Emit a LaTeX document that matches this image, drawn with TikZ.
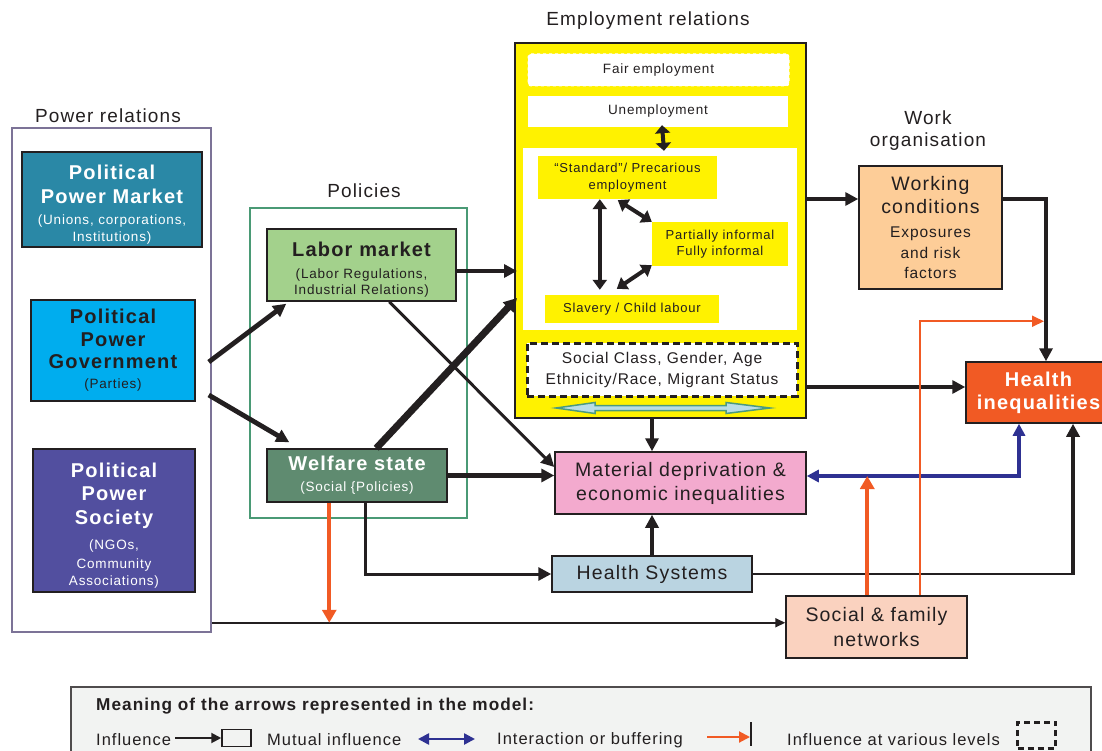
\documentclass[tikz,border=0pt]{standalone}
\usepackage{fontspec}
\setmainfont{Liberation Sans}[LetterSpace=6]
\usetikzlibrary{arrows.meta,calc}

\definecolor{ink}{HTML}{231F20}
\definecolor{mktcol}{HTML}{2A88A6}
\definecolor{govcol}{HTML}{00ADEE}
\definecolor{soccol}{HTML}{524F9F}
\definecolor{lmcol}{HTML}{A3D18C}
\definecolor{wscol}{HTML}{5F8B70}
\definecolor{mdcol}{HTML}{F3AACE}
\definecolor{hscol}{HTML}{BAD4E1}
\definecolor{sfcol}{HTML}{FAD2BF}
\definecolor{wccol}{HTML}{FDCD98}
\definecolor{hicol}{HTML}{F15A24}
\definecolor{empyel}{HTML}{FFF200}
\definecolor{buforange}{HTML}{F15A24}
\definecolor{mutblue}{HTML}{2E3192}
\definecolor{polframe}{HTML}{4A9A75}
\definecolor{powframe}{HTML}{7C7397}
\definecolor{legfill}{HTML}{F2F3F2}
\definecolor{barfill}{HTML}{B9DDE6}
\definecolor{barline}{HTML}{4A9A80}

\newcommand\txtHead{\fontsize{19}{22}\selectfont}
\newcommand\txtBig{\fontsize{19.5}{24}\selectfont}
\newcommand\txtTitle{\fontsize{20}{24}\selectfont\bfseries}
\newcommand\txtSub{\fontsize{13.5}{17}\selectfont\mdseries}
\newcommand\txtSmall{\fontsize{13}{16}\selectfont}
\newcommand\txtMid{\fontsize{15.5}{19}\selectfont}
\newcommand\txtLeg{\fontsize{16.5}{19}\selectfont}

\begin{document}
\begin{tikzpicture}[x=1pt,y=-1pt,
  every node/.style={text=ink},
  box/.style={draw=ink, line width=1.5pt, inner sep=0pt, align=center},
  frame/.style={line width=1.5pt, inner sep=0pt},
  lbl/.style={inner sep=0pt, align=center, font=\txtHead},
  tip/.style={-{Triangle[length=13pt,width=13pt]}},
  tiptwo/.style={{Triangle[length=12pt,width=12pt]}-{Triangle[length=12pt,width=12pt]}},
  heavy/.style={draw=ink, line width=4.8pt, tip},
  medium/.style={draw=ink, line width=3pt, tip},
  light/.style={draw=ink, line width=2pt, tip},
  mutual/.style={draw=mutblue, line width=4pt, tiptwo},
  buffer/.style={draw=buforange, line width=4pt, -{Triangle[length=13pt,width=14pt]}},
  bufferthin/.style={draw=buforange, line width=1.8pt, -{Triangle[length=12pt,width=11pt]}},
  inner2/.style={draw=ink, line width=4pt, {Triangle[length=10pt,width=14pt]}-{Triangle[length=10pt,width=14pt]}}
]
\useasboundingbox (0,0) rectangle (1102,751);

% ---------- Power relations ----------
\node[frame, draw=powframe, minimum width=199pt, minimum height=504pt] (pr) at (111.5,380) {};
\node[lbl] (prl) at (108,116) {Power relations};
\node[box, fill=mktcol, minimum width=180pt, minimum height=95pt, font=\txtTitle, text=white] (pm) at (112,199.5)
  {\rule{0pt}{24pt}Political\\Power Market\\[-3pt]\txtSub (Unions, corporations,\\[-7pt]\txtSub Institutions)};
\node[box, fill=govcol, minimum width=164pt, minimum height=101pt, font=\txtTitle] (pg) at (113,350.5)
  {Political\\[-1.5pt]Power\\[-1.5pt]Government\\[-4pt]\txtSub (Parties)};
\node[box, fill=soccol, minimum width=162pt, minimum height=143pt, font=\txtTitle, text=white] (ps) at (114,520.5)
  {\rule{0pt}{24pt}Political\\[-1pt]Power\\Society\\[1pt]\txtSub (NGOs,\\[-5pt]\txtSub Community\\[-7pt]\txtSub Associations)};

% ---------- Policies ----------
\node[frame, draw=polframe, line width=1.3pt, minimum width=217pt, minimum height=310pt] (pol) at (358.5,363) {};
\node[lbl] (poll) at (364,191) {Policies};
\node[box, fill=lmcol, minimum width=189pt, minimum height=72pt, font=\txtTitle] (lm) at (361.5,265)
  {\rule{0pt}{24pt}Labor market\\[-2pt]\txtSub (Labor Regulations,\\[-8pt]\txtSub Industrial Relations)};
\node[box, fill=wscol, minimum width=180pt, minimum height=53pt, font=\txtTitle, text=white] (ws) at (357,475.5)
  {Welfare state\\[-3pt]\txtSub (Social \{Policies)};

% ---------- Employment relations ----------
\node[lbl] (empl) at (648,21) {Employment relations};
\node[box, fill=empyel, line width=2pt, minimum width=291pt, minimum height=375pt] (emp) at (660.5,230.5) {};
\node[draw=white, dashed, line width=1pt, rounded corners=3pt, fill=white, inner sep=0pt,
      minimum width=261pt, minimum height=32pt, font=\txtSub] (fair) at (658.5,70) {Fair employment};
\node[fill=white, inner sep=0pt, minimum width=260pt, minimum height=31pt, font=\txtSub] (unemp) at (658,111.5) {Unemployment};
\node[fill=white, inner sep=0pt, minimum width=274pt, minimum height=182pt] (inner) at (660,239) {};
\node[fill=empyel, inner sep=0pt, align=center, minimum width=179pt, minimum height=43pt, font=\txtSmall] (std) at (627.5,177.5)
  {``Standard''/ Precarious\\[1pt]employment};
\node[fill=empyel, inner sep=0pt, align=center, minimum width=136pt, minimum height=44pt, font=\txtSmall] (inf) at (720,244)
  {Partially informal\\Fully informal};
\node[fill=empyel, inner sep=0pt, minimum width=174pt, minimum height=28pt, font=\txtSmall] (slav) at (632,309)
  {Slavery / Child labour};
\node[draw=ink, fill=white, line width=3pt, dash pattern=on 7pt off 4pt, inner sep=0pt, align=center,
      minimum width=270pt, minimum height=53pt, font=\txtMid] (soc) at (662,369.5)
  {Social Class, Gender, Age\\[2pt]Ethnicity/Race, Migrant Status};
% interaction bar across the social axes
\filldraw[fill=barfill, draw=barline, line width=1.5pt]
  (556,408) -- (595,402.5) -- (595,405.5) -- (726,405.5) -- (726,402.5) -- (770,408)
  -- (726,413.5) -- (726,410.5) -- (595,410.5) -- (595,413.5) -- cycle;

% arrows among employment forms
\draw[draw=ink, line width=4pt, {Triangle[length=8pt,width=15pt]}-{Triangle[length=8pt,width=15pt]}]
  ($(unemp.south)+(4,-2)$) -- ($(inner.north)+(4,3)$);
\draw[inner2] ($(std.south west)+(62,0)$) -- ($(slav.north west)+(55,-5)$);
\draw[inner2] ($(std.south west)+(80,1)$) -- ($(inf.north west)+(0,0)$);
\draw[inner2] ($(inf.south west)+(0,-1)$) -- ($(slav.north west)+(72,-6)$);

% ---------- Work organisation ----------
\node[lbl] (wol) at (928,131) {Work\\organisation};
\node[box, fill=wccol, minimum width=143pt, minimum height=123pt, font=\txtBig] (wc) at (930.5,227.5)
  {Working\\[-1pt]conditions\\\txtMid Exposures\\[-3pt]\txtMid and risk\\[-4pt]\txtMid factors};

% ---------- Outcomes ----------
\node[box, fill=hicol, minimum width=145pt, minimum height=61pt, font=\txtTitle, text=white] (hi) at (1038.5,392.5)
  {Health\\[-1pt]inequalities};
\node[box, fill=mdcol, minimum width=251pt, minimum height=62pt, font=\txtBig] (md) at (680.5,483)
  {Material deprivation \&\\economic inequalities};
\node[box, fill=hscol, minimum width=200pt, minimum height=36pt, font=\txtBig] (hs) at (652,574) {Health Systems};
\node[box, fill=sfcol, minimum width=181pt, minimum height=62pt, font=\txtBig] (sf) at (876.5,627)
  {Social \& family\\[1pt]networks};

% ---------- Connectors ----------
% power relations to policies
\draw[heavy] ($(pg.east)+(13,11.5)$) -- ($(lm.south west)+(20,2)$);
\draw[heavy] ($(pg.east)+(13,44.5)$) -- ($(ws.north west)+(23,-6)$);
% policies to employment and deprivation
\draw[heavy] ($(lm.east)+(0,6)$) -- ($(emp.west)+(3,40.5)$);
\draw[draw=ink, line width=7pt, -{Triangle[length=13pt,width=14pt]}] ($(ws.north west)+(110,0)$) -- ($(emp.west)+(3,67.5)$);
\draw[medium] ($(lm.south west)+(123,0)$) -- ($(md.west)+(0,-16)$);
\draw[heavy] (ws.east) -- (ws.east -| md.west);
\draw[medium] ($(ws.south west)+(99,0)$) |- (hs.west);
% buffering from welfare state
\coordinate (prout) at ($(pr.south east)+(0,-10)$);
\draw[light, -{Triangle[length=10pt,width=9pt]}] (prout) -- (prout -| sf.west);
\coordinate (wso) at ($(ws.south west)+(63,0)$);
\draw[buffer] (wso) -- (wso |- prout);
% employment to outcomes
\coordinate (wcin) at ($(wc.west)+(0,-28.5)$);
\coordinate (wcout) at ($(wc.east)+(0,-28.5)$);
\draw[heavy] (wcin -| emp.east) -- (wcin);
\draw[heavy] (wcout) -| ($(hi.north)+(7.5,0)$);
\coordinate (hiin) at ($(hi.west)+(0,-5.5)$);
\draw[heavy] (hiin -| emp.east) -- (hiin);
\draw[heavy] (emp.south -| hs.north) -- (md.north -| hs.north);
\draw[heavy] (hs.north) -- (hs.north |- md.south);
% health systems to health inequalities
\coordinate (hsturn) at ($(hi.south)+(34.5,0)$);
\coordinate (hscorner) at (hs.east -| hsturn);
\draw[draw=ink, line width=2.2pt] (hs.east) -- (hscorner);
\draw[draw=ink, line width=4pt, tip] ($(hscorner)+(0,1.1)$) -- (hsturn);
% mutual influence between deprivation and health inequalities
\coordinate (mdr) at ($(md.east)+(0,-7)$);
\draw[mutual] (mdr) -| ($(hi.south)+(-19.5,0)$);
% social and family networks buffering
\coordinate (sfo) at ($(sf.north west)+(82,0)$);
\draw[buffer] (sfo) -- (sfo |- mdr);
\coordinate (sft) at ($(sf.north west)+(135,0)$);
\coordinate (hib) at ($(hi.north)+(5.5,-40)$);
\draw[bufferthin] (sft) |- (hib);

% ---------- Legend ----------
\node[draw=ink!80, fill=legfill, line width=1.5pt, inner sep=0pt, minimum width=1020pt, minimum height=80pt] (leg) at (581,727) {};
\node[anchor=west, inner sep=0pt, font=\fontsize{17.2}{19}\selectfont\bfseries] (legt) at (96,706) {Meaning of the arrows represented in the model:};
\node[anchor=west, inner sep=0pt, font=\txtLeg] (lg1) at (96,740) {Influence};
\node[draw=ink, line width=1.5pt, inner sep=0pt, minimum width=29pt, minimum height=17pt] (lgsq) at (236.5,738) {};
\coordinate (lg1a) at (175,738);
\draw[draw=ink, line width=2pt, -{Triangle[length=10pt,width=10pt]}] (lg1a) -- (lgsq.west);
\node[anchor=west, inner sep=0pt, font=\txtLeg] (lg2) at (267,740) {Mutual influence};
\coordinate (lg2a) at (418,739);
\coordinate (lg2b) at (475,739);
\draw[draw=mutblue, line width=2.5pt, {Triangle[length=11pt,width=11pt]}-{Triangle[length=11pt,width=11pt]}] (lg2a) -- (lg2b);
\node[anchor=west, inner sep=0pt, font=\txtLeg] (lg3) at (497,740) {Interaction or buffering};
\coordinate (lg3a) at (707,737);
\coordinate (lg3b) at (750,737);
\coordinate (lg3t) at (751,722);
\coordinate (lg3u) at (751,746);
\draw[draw=buforange, line width=2pt, -{Triangle[length=11pt,width=11pt]}] (lg3a) -- (lg3b);
\draw[draw=ink, line width=1.5pt] (lg3t) -- (lg3u);
\node[anchor=west, inner sep=0pt, font=\txtLeg] (lg4) at (787,740) {Influence at various levels};
\node[draw=ink, line width=3pt, dash pattern=on 6pt off 4pt, inner sep=0pt, minimum width=38pt, minimum height=26pt] (lgdash) at (1036.5,735) {};

\end{tikzpicture}
\end{document}
